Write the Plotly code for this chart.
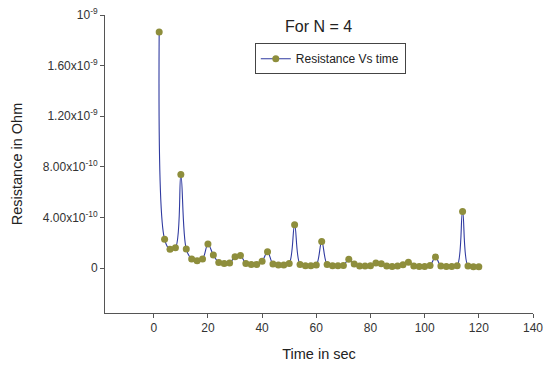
import plotly.graph_objects as go

time_s = list(range(2, 122, 2))
resistance = [
    1.866e-9, 2.27e-10, 1.48e-10, 1.60e-10, 7.40e-10, 1.50e-10, 0.71e-10, 0.58e-10, 0.71e-10, 1.90e-10,
    1.03e-10, 0.45e-10, 0.37e-10, 0.40e-10, 0.89e-10, 1.00e-10, 0.37e-10, 0.29e-10, 0.29e-10, 0.53e-10,
    1.29e-10, 0.32e-10, 0.24e-10, 0.24e-10, 0.37e-10, 3.42e-10, 0.29e-10, 0.18e-10, 0.18e-10, 0.24e-10,
    2.11e-10, 0.29e-10, 0.18e-10, 0.18e-10, 0.21e-10, 0.69e-10, 0.32e-10, 0.16e-10, 0.16e-10, 0.18e-10,
    0.40e-10, 0.34e-10, 0.16e-10, 0.13e-10, 0.16e-10, 0.26e-10, 0.47e-10, 0.16e-10, 0.13e-10, 0.13e-10,
    0.21e-10, 0.87e-10, 0.16e-10, 0.13e-10, 0.13e-10, 0.18e-10, 4.48e-10, 0.16e-10, 0.10e-10, 0.10e-10,
]
y_tickvals = [0, 4e-10, 8e-10, 1.2e-9, 1.6e-9, 2.0e-9]
y_ticktext = ["0", "4.00x10<sup>-10</sup>", "8.00x10<sup>-10</sup>", "1.20x10<sup>-9</sup>",
              "1.60x10<sup>-9</sup>", "10<sup>-9</sup>"]
x_tickvals = [0, 20, 40, 60, 80, 100, 120, 140]

font = "Liberation Sans, Arial, sans-serif"

fig = go.Figure()
fig.add_trace(go.Scatter(
    x=time_s, y=resistance, mode="lines+markers", name="Resistance Vs time",
    line=dict(color="#2f3aa0", width=1.1, shape="spline", smoothing=1.0),
    marker=dict(color="#8e8e3c", size=7, line=dict(width=0)),
))

fig.update_layout(
    width=545, height=365,
    margin=dict(l=105, r=12, t=15, b=52),
    paper_bgcolor="white", plot_bgcolor="white",
    font=dict(family=font, color="#222", size=12),
    showlegend=True,
    legend=dict(x=0.35, y=0.905, xanchor="left", yanchor="top",
                bordercolor="#444", borderwidth=1, bgcolor="white",
                font=dict(size=12, family=font, color="#222"),
                itemwidth=30, tracegroupgap=0),
    annotations=[dict(text="For N = 4", x=0.498, y=0.96, xref="paper", yref="paper",
                      showarrow=False, font=dict(size=16, family=font, color="#222"),
                      xanchor="center", yanchor="middle")],
)
fig.update_xaxes(range=[-18, 140], tickvals=x_tickvals, showgrid=False, zeroline=False,
                 automargin=False,
                 showline=True, linecolor="#555", linewidth=1, ticks="outside", ticklen=4,
                 tickcolor="#555", title=dict(text="Time in sec", font=dict(size=14.5, family=font), standoff=14),
                 tickfont=dict(size=12, color="#333"))
fig.update_yaxes(range=[-3.55e-10, 2.0e-9], tickvals=y_tickvals, ticktext=y_ticktext,
                 automargin=False,
                 showgrid=False, zeroline=False, showline=True, linecolor="#555", linewidth=1,
                 ticks="outside", ticklen=4, tickcolor="#555",
                 title=dict(text="Resistance in Ohm", font=dict(size=14.5, family=font), standoff=16),
                 tickfont=dict(size=12, color="#333"))

fig.write_html("out.html")
